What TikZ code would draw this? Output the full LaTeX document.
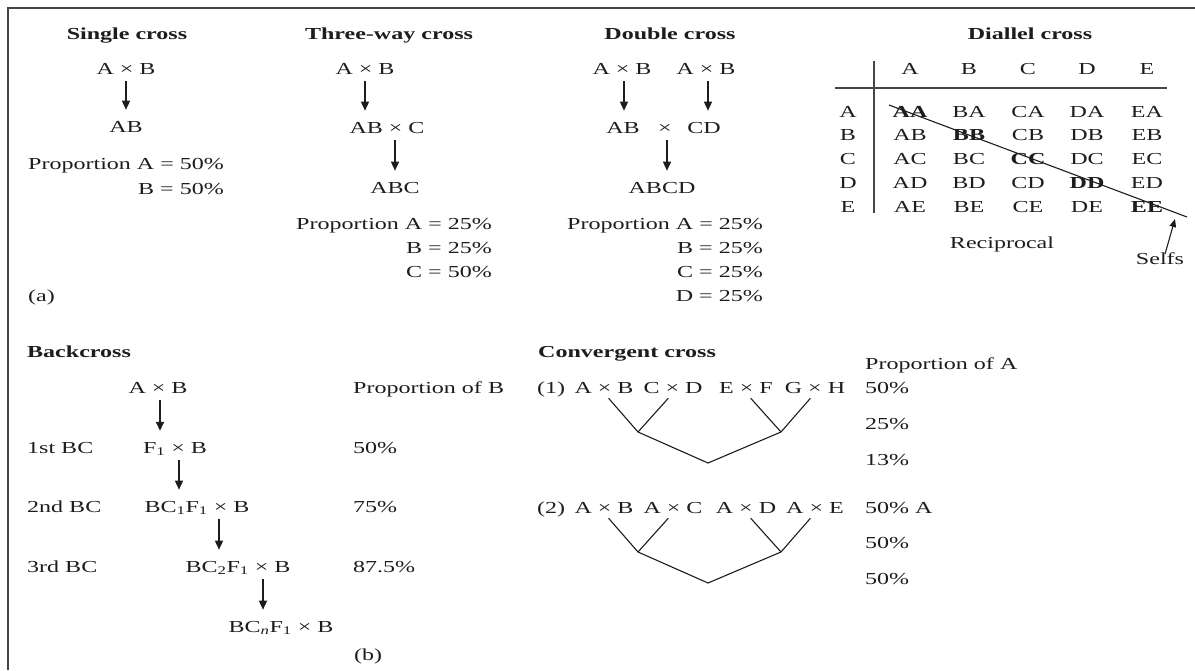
\documentclass[tikz,border=0pt]{standalone}
\usepackage{fontspec}
\setmainfont{Liberation Serif}[FakeStretch=1.43]
\usetikzlibrary{arrows.meta}
\definecolor{ink}{RGB}{30,28,28}
\definecolor{rule}{RGB}{70,70,70}
\tikzset{
  txt/.style={anchor=base, inner sep=0pt, text=ink, font=\fontsize{16.8}{18}\selectfont},
  txtl/.style={txt, anchor=base west},
  txtr/.style={txt, anchor=base east},
  hd/.style={txt, font=\fontsize{16.8}{18}\selectfont\bfseries},
  hdl/.style={hd, anchor=base west},
  arr/.style={line width=1.4pt, draw=ink, shorten <=7pt, shorten >=11pt, -{Triangle[width=8pt,length=9pt]}},
  sarr/.style={line width=1.1pt, draw=ink, -{Triangle[width=6.5pt,length=8pt]}},
  frameline/.style={line width=1.6pt, draw=rule},
  tabline/.style={line width=1.2pt, draw=rule},
  branch/.style={line width=1.1pt, draw=ink},
}
\begin{document}
\begin{tikzpicture}[x=1pt, y=-1pt]
\useasboundingbox (0,0) rectangle (1195,670);
\fill[white] (0,0) rectangle (1195,670);
% frame
\draw[frameline] (8,670) -- (8,8) -- (1195,8);

% ---------- Single cross
\node[hd] (sct) at (127,39) {Single cross};
\node[txt] (s1) at (126,74) {A × B};
\node[txt] (s2) at (126,132) {AB};
\draw[arr] (s1.base) -- (s1.base |- s2.north);
\node[txtl] (s3) at (28,169) {Proportion A = 50\%};
\node[txtr] (s4) at (224,194) {B = 50\%};

% ---------- Three-way cross
\node[hd] (twt) at (389,39) {Three-way cross};
\node[txt] (t1) at (365,74) {A × B};
\node[txt] (t2) at (387,133) {AB × C};
\node[txt] (t3) at (395,193) {ABC};
\draw[arr] (t1.base) -- (t1.base |- t2.north);
\draw[arr] (t2.base -| t3.north) -- (t3.north);
\node[txtl] (t4) at (296,229) {Proportion A = 25\%};
\node[txtr] (t5) at (492,253) {B = 25\%};
\node[txtr] (t6) at (492,277) {C = 50\%};

% ---------- Double cross
\node[hd] (dct) at (670,39) {Double cross};
\node[txt] (d1) at (622,74) {A × B};
\node[txt] (d2) at (706,74) {A × B};
\node[txt] (d3) at (623,133) {AB};
\node[txt] (dx) at (665,133) {×};
\node[txt] (d4) at (704,133) {CD};
\node[txt] (d5) at (662,193) {ABCD};
\draw[arr] ([xshift=2pt]d1.base) -- ([xshift=2pt]d1.base |- d3.north);
\draw[arr] ([xshift=2pt]d2.base) -- ([xshift=2pt]d2.base |- d4.north);
\draw[arr] ([xshift=2pt]dx.base) -- ([xshift=2pt]dx.base |- d5.north);
\node[txtl] (d6) at (567,229) {Proportion A = 25\%};
\node[txtr] (d7) at (763,253) {B = 25\%};
\node[txtr] (d8) at (763,277) {C = 25\%};
\node[txtr] (d9) at (763,301) {D = 25\%};

% ---------- Diallel cross
\node[hd] (dlt) at (1030,39) {Diallel cross};
\foreach \c/\x in {A/910,B/969,C/1028,D/1087,E/1147}{
  \node[txt] (col\c) at (\x,74) {\c};
}
\foreach \r/\y in {A/117,B/140,C/164,D/188,E/212}{
  \node[txt] (row\r) at (848,\y) {\r};
  \foreach \c/\x in {A/910,B/969,C/1028,D/1087,E/1147}{
    \ifx\r\c
      \node[hd] (cell\c\r) at (\x,\y) {\c\r};
    \else
      \node[txt] (cell\c\r) at (\x,\y) {\c\r};
    \fi
  }
}
\draw[tabline] (835,88) -- (1167,88);
\draw[tabline] (874,61) -- (874,213);
\coordinate (dg1) at (889,105);
\coordinate (dg2) at (1187,217);
\draw[branch] (dg1) -- (dg2);
\node[txt] (recip) at (1002,248) {Reciprocal};
\node[txt] (selfs) at (1160,264) {Selfs};
\coordinate (selftip) at (1175,219);
\draw[sarr] ([xshift=5pt,yshift=-2pt]selfs.north) -- (selftip);
\node[txtl] (la) at (28,301) {(a)};

% ---------- Backcross
\node[hdl] (bct) at (27,357) {Backcross};
\node[txt] (b1) at (158,393) {A × B};
\node[txt] (b2) at (175,453) {F\textsubscript{1} × B};
\node[txt] (b3) at (197,512) {BC\textsubscript{1}F\textsubscript{1} × B};
\node[txt] (b4) at (238,572) {BC\textsubscript{2}F\textsubscript{1} × B};
\node[txt] (b5) at (281,632) {BC\textsubscript{\itshape n}F\textsubscript{1} × B};
\draw[arr] ([xshift=2pt]b1.base) -- ([xshift=2pt]b1.base |- b2.north);
\draw[arr] ([xshift=4pt]b2.base) -- ([xshift=4pt]b2.base |- b3.north);
\draw[arr] ([xshift=22pt]b3.base) -- ([xshift=22pt]b3.base |- b4.north);
\draw[arr] ([xshift=25pt]b4.base) -- ([xshift=25pt]b4.base |- b5.north);
\node[txtl] (bl1) at (27,453) {1st BC};
\node[txtl] (bl2) at (27,512) {2nd BC};
\node[txtl] (bl3) at (27,572) {3rd BC};
\node[txtl] (bp0) at (353,393) {Proportion of B};
\node[txtl] (bp1) at (353,453) {50\%};
\node[txtl] (bp2) at (353,512) {75\%};
\node[txtl] (bp3) at (353,572) {87.5\%};
\node[txtl] (lb) at (354,660) {(b)};

% ---------- Convergent cross
\node[hdl] (cct) at (538,357) {Convergent cross};
\node[txtl] (cp0) at (865,369) {Proportion of A};
% row 1
\node[txtl] (c1) at (537,393) {(1)};
\node[txt] (p1) at (604,393) {A × B};
\node[txt] (p2) at (673,393) {C × D};
\node[txt] (p3) at (746,393) {E × F};
\node[txt] (p4) at (815,393) {G × H};
\node[txtl] (cp1) at (865,393) {50\%};
\node[txtl] (cp2) at (865,429) {25\%};
\node[txtl] (cp3) at (865,465) {13\%};
\coordinate (j1) at (638,432);
\coordinate (j2) at (781,432);
\coordinate (j3) at (708,463);
\draw[branch, shorten <=7pt] (p1.base) -- (j1);
\draw[branch, shorten <=7pt] (p2.base) -- (j1);
\draw[branch, shorten <=7pt] (p3.base) -- (j2);
\draw[branch, shorten <=7pt] (p4.base) -- (j2);
\draw[branch] (j1) -- (j3) -- (j2);
% row 2
\node[txtl] (c2) at (537,513) {(2)};
\node[txt] (q1) at (604,513) {A × B};
\node[txt] (q2) at (673,513) {A × C};
\node[txt] (q3) at (746,513) {A × D};
\node[txt] (q4) at (815,513) {A × E};
\node[txtl] (cq1) at (865,513) {50\% A};
\node[txtl] (cq2) at (865,548) {50\%};
\node[txtl] (cq3) at (865,584) {50\%};
\coordinate (k1) at (638,552);
\coordinate (k2) at (781,552);
\coordinate (k3) at (708,583);
\draw[branch, shorten <=7pt] (q1.base) -- (k1);
\draw[branch, shorten <=7pt] (q2.base) -- (k1);
\draw[branch, shorten <=7pt] (q3.base) -- (k2);
\draw[branch, shorten <=7pt] (q4.base) -- (k2);
\draw[branch] (k1) -- (k3) -- (k2);
\end{tikzpicture}
\end{document}
